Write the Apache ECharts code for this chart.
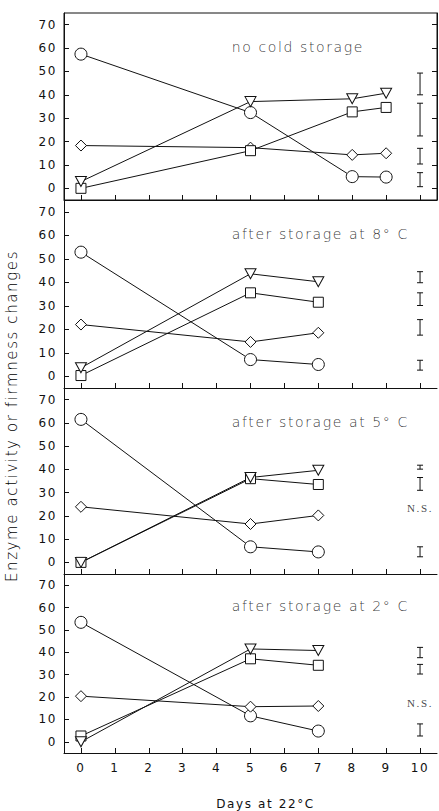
<!DOCTYPE html>
<html>
<head>
<meta charset="utf-8">
<script src="https://cdn.jsdelivr.net/npm/echarts@6/dist/echarts.min.js"></script>
<style>
  html, body { margin: 0; padding: 0; background: #fff; }
  #main { width: 439px; height: 811px; }
  #main text { letter-spacing: 1.6px; }
</style>
</head>
<body>
<div id="main"></div>
<script>
// data
var panelTitles = ['no cold storage', 'after storage at 8° C', 'after storage at 5° C', 'after storage at 2° C'];
var panelDays = [[0, 5, 8, 9], [0, 5, 7], [0, 5, 7], [0, 5, 7]];
var circleVals = [[57.4, 32.4, 5, 4.8], [52.8, 7.1, 5], [61.5, 6.7, 4.5], [53.4, 11.6, 4.8]];
var triangleVals = [[2.9, 37.1, 38.3, 40.7], [3.6, 43.6, 40.2], [0, 36.5, 39.6], [0, 41.5, 40.8]];
var squareVals = [[0, 16.1, 32.7, 34.6], [0.3, 35.5, 31.5], [0, 36, 33.5], [2.6, 37.1, 34.2]];
var diamondVals = [[18.3, 17.4, 14.3, 15], [22, 14.6, 18.5], [23.9, 16.5, 20.2], [20.4, 15.7, 16]];
// least significant difference bars at day 10 (low, high)
var errorBars = [
    [[40, 49.3], [22.4, 36.4], [10.4, 17.1], [0.7, 6.7]],
    [[39.8, 44.5], [30.1, 35.5], [17.5, 24.1], [2.6, 6.8]],
    [[40.1, 41.8], [31, 36.5], [2.4, 6.7]],
    [[37.6, 42.2], [30.3, 34.6], [2.6, 8]]
];
var nsVals = [null, null, 23.2, 17.2];
var yTicks = [0, 10, 20, 30, 40, 50, 60, 70];
var xTicks = [0, 1, 2, 3, 4, 5, 6, 7, 8, 9, 10];

var mycharts = echarts.init(document.getElementById('main'), null, { renderer: 'svg' });

var ink = '#111';
var font = 'DejaVu Sans';
var gridBoxes = [[13, 187], [200, 188], [388, 186], [574, 184]];

var grids = [], xAxes = [], yAxes = [], series = [];

function pairs(xs, ys) {
    return xs.map(function (x, i) { return [x, ys[i]]; });
}

for (var i = 0; i < 4; i++) {
    grids.push({
        left: 64, width: 373, top: gridBoxes[i][0], height: gridBoxes[i][1],
        show: i === 0, borderColor: ink, borderWidth: 1
    });
    xAxes.push({
        gridIndex: i, type: 'value', min: -0.5, max: 10.5,
        axisLine: { show: true, onZero: false, lineStyle: { color: ink, width: 1 } },
        axisTick: { show: true, inside: true, length: 5, customValues: xTicks, lineStyle: { color: ink } },
        axisLabel: { show: i === 3, customValues: xTicks, color: ink, fontFamily: font, fontSize: 12, margin: 9 },
        splitLine: { show: false },
        name: i === 3 ? 'Days at 22°C' : '',
        nameLocation: 'middle', nameGap: 45,
        nameTextStyle: { color: ink, fontFamily: font, fontSize: 12, padding: [0, 0, 0, 30] }
    });
    yAxes.push({
        gridIndex: i, type: 'value', min: -5, max: 75,
        axisLine: { show: true, onZero: false, lineStyle: { color: ink, width: 1 } },
        axisTick: { show: true, inside: true, length: 5, customValues: yTicks, lineStyle: { color: ink } },
        axisLabel: { customValues: yTicks, color: ink, fontFamily: font, fontSize: 12, margin: 7 },
        splitLine: { show: false }
    });

    var xs = panelDays[i];
    var base = { type: 'line', xAxisIndex: i, yAxisIndex: i, showAllSymbol: true,
        lineStyle: { color: ink, width: 1 },
        itemStyle: { color: '#fff', borderColor: ink, borderWidth: 1 },
        emphasis: { disabled: true }, animation: false };

    series.push(Object.assign({}, base, { name: 'circle', symbol: 'circle', symbolSize: 12, data: pairs(xs, circleVals[i]) }));
    series.push(Object.assign({}, base, { name: 'diamond', symbol: 'diamond', symbolSize: 11, data: pairs(xs, diamondVals[i]) }));
    series.push(Object.assign({}, base, { name: 'square', symbol: 'rect', symbolSize: 10, data: pairs(xs, squareVals[i]) }));
    series.push(Object.assign({}, base, { name: 'triangle', symbol: 'triangle', symbolRotate: 180, symbolSize: [11, 10], data: pairs(xs, triangleVals[i]) }));

    // error bars at day 10
    series.push({
        type: 'custom', xAxisIndex: i, yAxisIndex: i, animation: false, silent: true,
        data: errorBars[i].map(function (b) { return [10, b[0], b[1]]; }),
        renderItem: function (params, api) {
            var lo = api.coord([api.value(0), api.value(1)]);
            var hi = api.coord([api.value(0), api.value(2)]);
            var w = 3;
            var st = { stroke: ink, lineWidth: 1 };
            return { type: 'group', children: [
                { type: 'line', shape: { x1: lo[0], y1: lo[1], x2: hi[0], y2: hi[1] }, style: st },
                { type: 'line', shape: { x1: lo[0] - w, y1: lo[1], x2: lo[0] + w, y2: lo[1] }, style: st },
                { type: 'line', shape: { x1: hi[0] - w, y1: hi[1], x2: hi[0] + w, y2: hi[1] }, style: st }
            ] };
        }
    });

    // panel caption and N.S. mark
    var marks = [{ value: [4.45, 60.5], label: { formatter: panelTitles[i], fontFamily: font, fontWeight: 200, fontSize: 14, align: 'left', color: '#000' } }];
    if (nsVals[i] !== null) {
        marks.push({ value: [10, nsVals[i]], label: { formatter: 'N.S.', fontFamily: 'Liberation Serif', fontSize: 11, align: 'center' } });
    }
    series.push({
        type: 'scatter', xAxisIndex: i, yAxisIndex: i, symbolSize: 0, silent: true, animation: false,
        data: marks,
        label: { show: true, position: [0, 0], verticalAlign: 'middle', color: ink }
    });
}

// right-hand ticks on the top panel
yAxes.push({
    gridIndex: 0, position: 'right', type: 'value', min: -5, max: 75,
    axisLine: { show: true, onZero: false, lineStyle: { color: ink } },
    axisTick: { show: true, inside: true, length: 5, customValues: yTicks, lineStyle: { color: ink } },
    axisLabel: { show: false }, splitLine: { show: false }
});

var optionObj = {
    backgroundColor: '#fff',
    animation: false,
    grid: grids,
    xAxis: xAxes,
    yAxis: yAxes,
    graphic: [{
        type: 'text', x: 12, y: 416, rotation: Math.PI / 2,
        style: { text: 'Enzyme activity or firmness changes', font: '200 15px "DejaVu Sans"', fill: '#000',
            textAlign: 'center', textVerticalAlign: 'middle' }
    }],
    series: series
};

mycharts.setOption(optionObj);
</script>
</body>
</html>
